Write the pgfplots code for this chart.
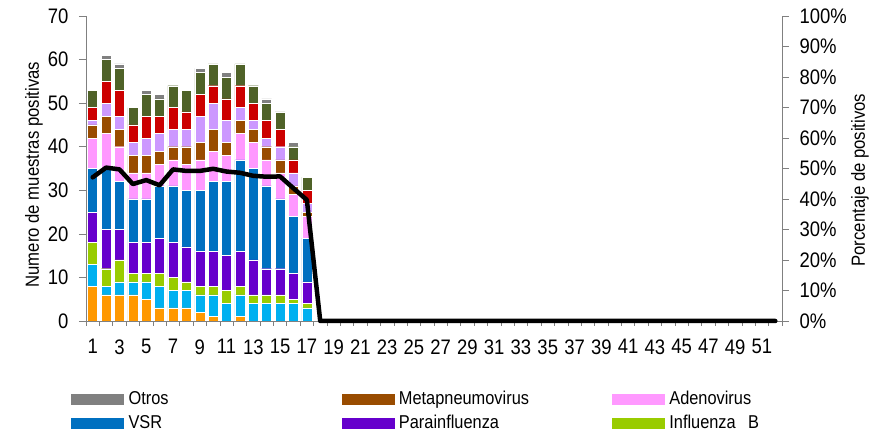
\documentclass[border=0pt]{standalone}
\usepackage{pgfplots}
\pgfplotsset{compat=1.18}
\usepackage{pgfplotstable}
\usepackage{fontspec}
\setmainfont{Liberation Sans}[FakeStretch=0.88]

\definecolor{cNar}{HTML}{FF9900}
\definecolor{cCel}{HTML}{00B0F0}
\definecolor{cInfB}{HTML}{99CC00}
\definecolor{cPara}{HTML}{6600CC}
\definecolor{cVSR}{HTML}{0070C0}
\definecolor{cAdeno}{HTML}{FF99FF}
\definecolor{cMeta}{HTML}{994C00}
\definecolor{cLila}{HTML}{CC99FF}
\definecolor{cRojo}{HTML}{CC0000}
\definecolor{cOliva}{HTML}{4F6228}
\definecolor{cOtros}{HTML}{808080}

% muestras positivas por semana (semanas 1-17)
\pgfplotstableread{
sem nar cel infb para vsr adeno meta lila rojo oliva otros
1  8 5 5 7 10 7 3 1 3 4 0
2  6 2 4 9 14 8 4 3 5 5 1
3  6 3 5 7 11 8 4 3 6 5 1
4  6 3 2 7 10 6 4 3 4 4 0
5  5 4 2 7 10 6 4 4 5 5 1
6  3 5 3 8 12 5 3 4 4 4 1
7  3 4 3 8 13 6 3 4 5 5 0
8  3 4 2 8 13 6 4 4 4 5 0
9  2 4 2 8 14 7 4 6 5 5 1
10 1 5 2 8 16 7 5 6 4 5 0
11 0 4 3 8 17 6 3 5 5 5 1
12 1 5 2 8 21 6 3 3 5 5 0
13 0 4 2 8 21 6 3 2 4 4 0
14 0 4 2 6 19 6 3 2 4 4 1
15 0 4 2 6 16 6 3 3 4 4 0
16 0 4 1 6 13 5 2 3 3 3 1
17 0 3 1 5 10 5 1 2 3 3 0
}\virus

% porcentaje de positivos
\pgfplotstableread{
sem pct
1 47.1
2 50.3
3 49.7
4 44.9
5 46.2
6 44.5
7 49.7
8 49.2
9 49.2
10 49.9
11 49.0
12 48.6
13 47.6
14 47.3
15 47.4
16 43.5
17 39.7
18 0
19 0
20 0
21 0
22 0
23 0
24 0
25 0
26 0
27 0
28 0
29 0
30 0
31 0
32 0
33 0
34 0
35 0
36 0
37 0
38 0
39 0
40 0
41 0
42 0
43 0
44 0
45 0
46 0
47 0
48 0
49 0
50 0
51 0
52 0
}\porcentaje

\pgfplotsset{
  comun/.style={
    scale only axis, width=696pt, height=305pt,
    xmin=0.5, xmax=52.5,
    tick align=outside,
    major tick length=7pt, minor tick length=5pt,
    tick style={gray, line width=0.6pt},
    axis line style={gray, line width=0.6pt},
    /pgf/number format/assume math mode=true,
    tick label style={font=\fontsize{21}{24}\selectfont},
  },
}

\begin{document}
\begin{tikzpicture}
\path[use as bounding box] (-86pt,-114pt) rectangle (800pt,321pt);
\begin{axis}[
  comun,
  ybar stacked, bar width=10pt,
  ymin=0, ymax=70, ytick={0,10,...,70},
  axis y line*=left, axis x line*=bottom,
  xtick={1,3,...,51},
  major x tick style={draw=none},
  minor xtick={0.5,1.5,...,52.5},
  xticklabel style={yshift=-8pt},
  yticklabel style={xshift=-7pt},
  ylabel={Numero de muestras positivas},
  every axis y label/.style={at={(axis description cs:-0.0747,0.48)}, rotate=90,
    anchor=center, font=\fontsize{19}{22}\selectfont},
  legend columns=3,
  legend cell align=left,
  legend style={at={(axis description cs:-0.0216,-0.2164)}, anchor=north west,
    draw=none, fill=none, inner sep=0pt,
    font=\fontsize{18.6}{21}\selectfont,
    nodes={text width=208pt, inner xsep=5pt, inner ysep=3pt,
      text height=14pt, text depth=4pt, align=left}},
]
\addplot[fill=cNar,   draw=white, line width=0.4pt, forget plot] table[x=sem, y=nar]   {\virus};
\addplot[fill=cCel,   draw=white, line width=0.4pt, forget plot] table[x=sem, y=cel]   {\virus};
\addplot[fill=cInfB,  draw=white, line width=0.4pt, forget plot] table[x=sem, y=infb]  {\virus};
\addplot[fill=cPara,  draw=white, line width=0.4pt, forget plot] table[x=sem, y=para]  {\virus};
\addplot[fill=cVSR,   draw=white, line width=0.4pt, forget plot] table[x=sem, y=vsr]   {\virus};
\addplot[fill=cAdeno, draw=white, line width=0.4pt, forget plot] table[x=sem, y=adeno] {\virus};
\addplot[fill=cMeta,  draw=white, line width=0.4pt, forget plot] table[x=sem, y=meta]  {\virus};
\addplot[fill=cLila,  draw=white, line width=0.4pt, forget plot] table[x=sem, y=lila]  {\virus};
\addplot[fill=cRojo,  draw=white, line width=0.4pt, forget plot] table[x=sem, y=rojo]  {\virus};
\addplot[fill=cOliva, draw=white, line width=0.4pt, forget plot] table[x=sem, y=oliva] {\virus};
\addplot[fill=cOtros, draw=white, line width=0.4pt, forget plot] table[x=sem, y=otros] {\virus};

\addlegendimage{legend image code/.code={\fill[cOtros] (0pt,-5pt) rectangle (52pt,5pt);}}
\addlegendentry{Otros}
\addlegendimage{legend image code/.code={\fill[cMeta] (0pt,-5pt) rectangle (52pt,5pt);}}
\addlegendentry{Metapneumovirus}
\addlegendimage{legend image code/.code={\fill[cAdeno] (0pt,-5pt) rectangle (52pt,5pt);}}
\addlegendentry{Adenovirus}
\addlegendimage{legend image code/.code={\fill[cVSR] (0pt,-5pt) rectangle (52pt,5pt);}}
\addlegendentry{VSR}
\addlegendimage{legend image code/.code={\fill[cPara] (0pt,-5pt) rectangle (52pt,5pt);}}
\addlegendentry{Parainfluenza}
\addlegendimage{legend image code/.code={\fill[cInfB] (0pt,-5pt) rectangle (52pt,5pt);}}
\addlegendentry{Influenza\ \ B}
\end{axis}

\begin{axis}[
  comun,
  ymin=0, ymax=100, ytick={0,10,...,100},
  yticklabels={0\%,10\%,20\%,30\%,40\%,50\%,60\%,70\%,80\%,90\%,100\%},
  yticklabel style={xshift=7pt},
  axis y line*=right, axis x line=none,
  ylabel={Porcentaje de positivos},
  every axis y label/.style={at={(axis description cs:1.112,0.462)}, rotate=90,
    anchor=center, font=\fontsize{19}{22}\selectfont},
  clip=false,
]
\addplot[black, line width=4.5pt, line join=round, line cap=round, mark=none] table[x=sem, y=pct] {\porcentaje};
\end{axis}
\end{tikzpicture}
\end{document}
